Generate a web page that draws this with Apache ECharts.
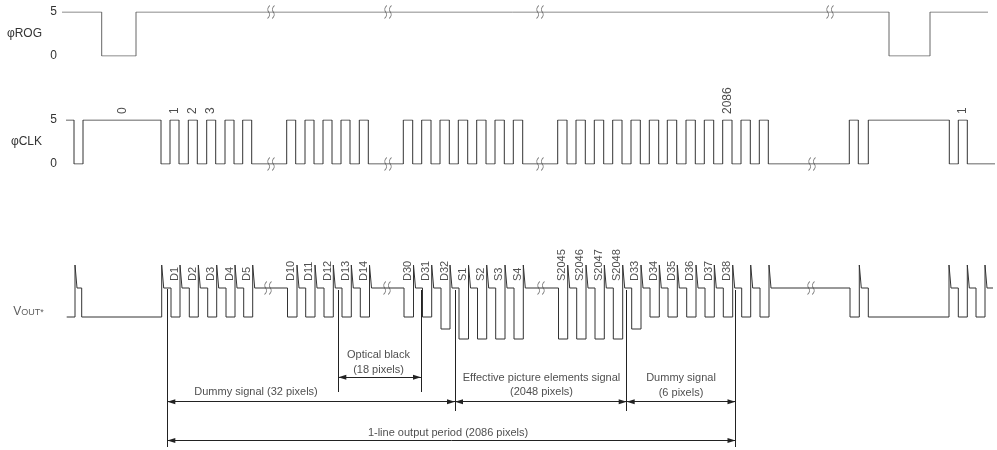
<!DOCTYPE html>
<html>
<head>
<meta charset="utf-8">
<script src="https://cdn.jsdelivr.net/npm/echarts@6/dist/echarts.min.js"></script>
<style>
html,body{margin:0;padding:0;background:#fff}
#chartMain{width:997px;height:450px}
</style>
</head>
<body>
<div id="chartMain"></div>
<script>
// time axis is in diagram units, levels in volts
var rogStart = 62, rogEnd = 988;
var rogEdges = [101.7, 136, 889, 930];          // level flips, starts high
var rogBreaks = [271, 388, 540, 830];

var clkStart = 66, clkEnd = 995;
var clkEdges = [74, 83, 161,
  170, 179, 188.3, 197.3, 206.7, 215.7, 225, 234, 242.7, 251.7,
  286.7, 295.7, 305, 314, 323, 332, 341, 350, 359.3, 368.3,
  403.3, 412.7, 421.7, 431, 440, 449.3, 458.3, 467.7, 476.7, 486, 495, 504.3, 513.3, 522.7,
  557.7, 567, 576, 585.3, 594.3, 603.7, 612.7, 622, 631, 640.3, 649.3, 658.7, 667.3, 676.7,
  686, 695.3, 704.3, 713.7, 722.7, 732, 741, 750.3, 759.3, 768.3,
  849.3, 858.3, 868.3, 949.3, 958.3, 967.3];
var clkBreaks = [271, 388, 540, 812];
var clkTickNames = ['0', '1', '2', '3', '2086', '1'];
var clkTickX = [123, 174.5, 193, 211, 727.5, 963];

// Vout: each pixel = low interval [start, end] at a depth, then reset spike
var voutStart = 66.7, voutEnd = 993;
var voutTop = 265, voutMid = 288, voutSpikeW = 2;
var voutLowStart = [66.7, 81.7, 171, 189.3, 207.7, 226, 243.7,
  287.5, 305.7, 324, 342, 360.3,
  404, 422.5, 441, 459, 477.5, 495.7, 514,
  558.5, 576.7, 595, 613.3, 631.7, 650, 668, 686.7, 705, 723.3, 741.7, 760,
  850, 868.3, 958.3, 976];
var voutLowEnd = [75, 161.7, 180, 198.3, 216.7, 235, 252.7,
  297, 315, 333.3, 351.3, 369.5,
  413.5, 431.7, 450, 468.5, 486.7, 505, 523.3,
  567.7, 586, 604.3, 622.7, 641, 659.3, 677.3, 696, 714.3, 732.7, 750.7, 769,
  859.3, 949, 967.3, 985];
var voutLowDepth = [317, 317, 317, 317, 317, 317, 317,
  317, 317, 317, 317, 317,
  317, 317, 329, 339, 339, 339, 339,
  339, 339, 339, 339, 329, 317, 317, 317, 317, 317, 317, 317,
  317, 317, 317, 317];
var voutLowName = ['', '', 'D1', 'D2', 'D3', 'D4', 'D5',
  'D10', 'D11', 'D12', 'D13', 'D14',
  'D30', 'D31', 'D32', 'S1', 'S2', 'S3', 'S4',
  'S2045', 'S2046', 'S2047', 'S2048', 'D33', 'D34', 'D35', 'D36', 'D37', 'D38', '', '',
  '', '', '', ''];
var voutBreaks = [268, 387, 541, 811];

// dimension lines
var extX = [167.3, 338.3, 421, 455, 626.7, 735.5];
var extTop = [289, 290, 290, 290, 290, 290];
var extBottom = [447, 392, 392, 411, 411, 447];
var arrowFrom = [338.3, 167.3, 455, 626.7, 167.3];
var arrowTo = [421, 455, 626.7, 735.5, 735.5];
var arrowY = [377.3, 401.7, 401.7, 401.7, 440.5];

var noteText = ['Optical black', '(18 pixels)', 'Dummy signal (32 pixels)',
  'Effective picture elements signal', '(2048 pixels)', 'Dummy signal', '(6 pixels)',
  '1-line output period (2086 pixels)'];
var noteX = [378.5, 378.5, 256, 541.5, 541.5, 681, 681, 448];
var noteY = [355, 369.5, 392, 378, 392, 378, 392.5, 432.5];

var FONT = "'Liberation Sans', Arial, sans-serif";
var INK = '#222';

function stepPoints(start, end, edges, level) {
    var pts = [[start, level]];
    for (var i = 0; i < edges.length; i++) {
        pts.push([edges[i], level]);
        level = level ? 0 : 5;
        pts.push([edges[i], level]);
    }
    pts.push([end, level]);
    return pts;
}

function voutPoints() {
    var pts = [];
    for (var i = 0; i < voutLowStart.length; i++) {
        var s = voutLowStart[i], e = voutLowEnd[i], d = voutLowDepth[i];
        if (i === 0) {
            pts.push([s, d]);
        } else {
            pts.push([s, voutMid], [s, d]);
        }
        pts.push([e, d], [e, voutTop], [e + voutSpikeW, voutTop], [e + voutSpikeW, voutMid]);
    }
    pts.push([voutEnd, voutMid]);
    return pts;
}

var breakSymbol = 'path://M3 0Q0 3 2 6Q4 9 1 12M7 0Q4 3 6 6Q8 9 5 12';
var arrowSymbol = 'path://M3 0L3 0M3 8L6 16L0 16Z';

function breakSeries(xs, y, xi) {
    return {
        type: 'scatter', xAxisIndex: xi, yAxisIndex: xi, clip: false,
        symbol: breakSymbol, symbolSize: [7, 13], silent: true,
        itemStyle: {color: 'transparent', borderColor: '#555', borderWidth: 1},
        data: xs.map(function (x) { return [x, y]; }),
        z: 5
    };
}

var voutLabels = [];
for (var i = 0; i < voutLowName.length; i++) {
    if (voutLowName[i]) {
        voutLabels.push([(voutLowStart[i] + voutLowEnd[i]) / 2 - 1, 281, voutLowName[i]]);
    }
}

var option = {
    animation: false,
    backgroundColor: '#fff',
    textStyle: {fontFamily: FONT},
    grid: [
        {left: 62, right: 0, top: 12, height: 44},
        {left: 62, right: 0, top: 120, height: 44},
        {left: 0, right: 0, top: 0, bottom: 0}
    ],
    xAxis: [
        {gridIndex: 0, type: 'value', min: 62, max: 997, show: false},
        {gridIndex: 1, type: 'value', min: 62, max: 997, show: false},
        {gridIndex: 2, type: 'value', min: 0, max: 997, show: false}
    ],
    yAxis: [
        {
            gridIndex: 0, type: 'value', min: 0, max: 5, interval: 5,
            axisLine: {show: false}, axisTick: {show: false}, splitLine: {show: false},
            axisLabel: {margin: 5, fontSize: 12, color: '#333', fontFamily: FONT},
            name: 'φROG', nameLocation: 'middle', nameRotate: 0, nameGap: 20,
            nameTextStyle: {fontSize: 12, color: '#333', fontFamily: FONT}
        },
        {
            gridIndex: 1, type: 'value', min: 0, max: 5, interval: 5,
            axisLine: {show: false}, axisTick: {show: false}, splitLine: {show: false},
            axisLabel: {margin: 5, fontSize: 12, color: '#333', fontFamily: FONT},
            name: 'φCLK', nameLocation: 'middle', nameRotate: 0, nameGap: 20,
            nameTextStyle: {fontSize: 12, color: '#333', fontFamily: FONT}
        },
        {gridIndex: 2, type: 'value', min: 0, max: 450, inverse: true, show: false}
    ],
    series: [
        {
            name: 'ROG', type: 'line', xAxisIndex: 0, yAxisIndex: 0,
            showSymbol: false, silent: true,
            lineStyle: {color: '#666', width: 1},
            data: stepPoints(rogStart, rogEnd, rogEdges, 5)
        },
        {
            name: 'CLK', type: 'line', xAxisIndex: 1, yAxisIndex: 1,
            showSymbol: false, silent: true,
            lineStyle: {color: '#333', width: 1},
            data: stepPoints(clkStart, clkEnd, clkEdges, 5)
        },
        {
            name: 'Vout', type: 'line', xAxisIndex: 2, yAxisIndex: 2,
            showSymbol: false, silent: true,
            lineStyle: {color: '#333', width: 1, join: 'miter'},
            data: voutPoints()
        },
        breakSeries(rogBreaks, 5, 0),
        breakSeries(clkBreaks, 0, 1),
        breakSeries(voutBreaks, voutMid, 2),
        {
            // extension lines
            type: 'lines', coordinateSystem: 'cartesian2d', xAxisIndex: 2, yAxisIndex: 2,
            silent: true, symbol: 'none',
            lineStyle: {color: INK, width: 1, opacity: 1},
            data: extX.map(function (x, k) { return {coords: [[x, extTop[k]], [x, extBottom[k]]]}; })
        },
        {
            // dimension arrows
            type: 'lines', coordinateSystem: 'cartesian2d', xAxisIndex: 2, yAxisIndex: 2,
            silent: true, symbol: [arrowSymbol, arrowSymbol], symbolSize: [[5, 16], [5, 16]],
            lineStyle: {color: INK, width: 1, opacity: 1},
            data: arrowFrom.map(function (x, k) { return {coords: [[x, arrowY[k]], [arrowTo[k], arrowY[k]]]}; })
        },
        {
            // pixel names on Vout
            type: 'scatter', xAxisIndex: 2, yAxisIndex: 2, clip: false, silent: true,
            symbolSize: 1, itemStyle: {color: 'transparent'},
            label: {
                show: true, position: 'inside', rotate: 90, align: 'left', verticalAlign: 'middle',
                fontSize: 11, color: INK, fontFamily: FONT,
                formatter: function (p) { return p.value[2]; }
            },
            data: voutLabels
        },
        {
            // clock numbers
            type: 'scatter', xAxisIndex: 2, yAxisIndex: 2, clip: false, silent: true,
            symbolSize: 1, itemStyle: {color: 'transparent'},
            label: {
                show: true, position: 'inside', rotate: 90, align: 'left', verticalAlign: 'middle',
                fontSize: 12, color: INK, fontFamily: FONT,
                formatter: function (p) { return p.value[2]; }
            },
            data: clkTickX.map(function (x, k) { return [x, 114, clkTickNames[k]]; })
        },
        {
            // notes
            type: 'scatter', xAxisIndex: 2, yAxisIndex: 2, clip: false, silent: true,
            symbolSize: 1, itemStyle: {color: 'transparent'},
            label: {
                show: true, position: 'inside', align: 'center', verticalAlign: 'middle',
                fontSize: 11, color: INK, fontFamily: FONT,
                formatter: function (p) { return p.value[2]; }
            },
            data: noteX.map(function (x, k) { return [x, noteY[k], noteText[k]]; })
        },
        {
            // Vout signal name
            type: 'scatter', xAxisIndex: 2, yAxisIndex: 2, clip: false, silent: true,
            symbolSize: 1, itemStyle: {color: 'transparent'},
            label: {
                show: true, position: 'inside', align: 'center', verticalAlign: 'middle',
                formatter: '{v|V}{s|OUT*}',
                rich: {
                    v: {fontSize: 12, color: '#333', fontFamily: FONT},
                    s: {fontSize: 9, color: '#333', fontFamily: FONT, padding: [1, 0, 0, 0]}
                }
            },
            data: [[28.5, 312]]
        }
    ]
};

var chartMain = document.getElementById('chartMain');
var mychart = echarts.init(chartMain);
mychart.setOption(option);
</script>
</body>
</html>
